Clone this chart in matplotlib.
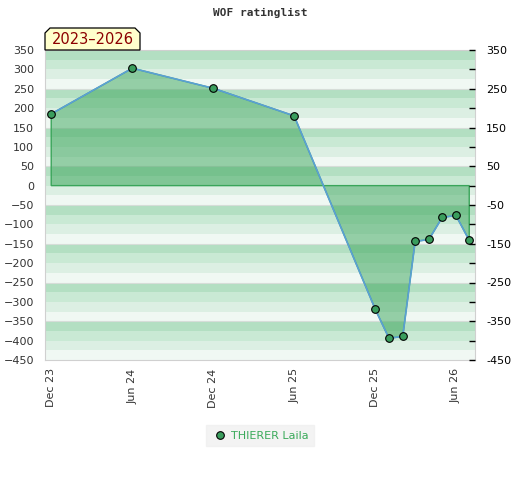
import datetime as dt
import numpy as np
import matplotlib
matplotlib.use('Agg')
import matplotlib.pyplot as plt
import matplotlib.dates as mdates
from matplotlib.patches import Polygon

# data
dates = ['2023-12-01', '2024-06-01', '2024-12-01', '2025-06-01', '2025-12-01',
         '2026-01-01', '2026-02-01', '2026-03-01', '2026-04-01', '2026-05-01',
         '2026-06-01', '2026-07-01']
rating = [185, 303, 251, 180, -319, -394, -389, -144, -139, -82, -77, -141]
player = 'THIERER Laila'
period = '2023\u20132026'
title = 'WOF ratinglist'
tick_dates = ['2023-12-01', '2024-06-01', '2024-12-01', '2025-06-01', '2025-12-01', '2026-06-01']
tick_labels = ['Dec 23', 'Jun 24', 'Dec 24', 'Jun 25', 'Dec 25', 'Jun 26']

x = mdates.date2num([dt.datetime.fromisoformat(d) for d in dates])
xt = mdates.date2num([dt.datetime.fromisoformat(d) for d in tick_dates])
y = np.array(rating)

W, H = 520, 480
fig = plt.figure(figsize=(W / 100, H / 100), dpi=100)
ax = fig.add_axes([45 / W, 1 - 360 / H, 430 / W, 310 / H])

ymin, ymax = -450, 350
# striped background
stripe_cols = ['#b3dfc2', '#c9e9d4', '#dcefe3', '#f0f8f3']
for i, top in enumerate(range(ymax, ymin, -25)):
    ax.axhspan(top - 25, top, color=stripe_cols[i % 4], lw=0, zorder=0)
for top in range(ymax - 100, ymin, -100):
    ax.axhline(top, color='#d6ddd8', lw=0.8, zorder=0.5)

# area between line and zero
poly = np.column_stack([np.r_[x[0], x, x[-1]], np.r_[0, y, 0]])
ax.add_patch(Polygon(poly, closed=True, facecolor='#3aa55a', alpha=0.5,
                     edgecolor='none', zorder=1))
ax.add_patch(Polygon(poly, closed=True, facecolor='none',
                     edgecolor='#3aa55a', lw=1, zorder=1.5))
ax.plot(x, y, color='#5b9fd6', lw=1.2, zorder=2)
ax.plot(x, y, 'o', ms=5.5, mfc='#3a9d5d', mec='black', mew=0.8, zorder=3,
        label=player)

ax.set_ylim(ymin, ymax)
left = mdates.date2num(dt.datetime(2023, 11, 17))
right = mdates.date2num(dt.datetime(2026, 7, 14))
ax.set_xlim(left, right)

ax.set_yticks(np.arange(ymin, ymax + 1, 50))
ax.tick_params(axis='y', length=0, labelsize=8, labelcolor='#333333', pad=8)
ax.set_xticks(xt)
ax.set_xticklabels(tick_labels, rotation=90)
ax.tick_params(axis='x', length=0, labelsize=8, labelcolor='#333333', pad=6)

for s in ax.spines.values():
    s.set_color('#d0d0d0')

ax2 = ax.twinx()
ax2.set_ylim(ymin, ymax)
ax2.set_yticks(np.arange(ymin, ymax + 1, 50))
ax2.set_yticklabels([str(v) if (ymax - v) % 100 == 0 else '' for v in range(ymin, ymax + 1, 50)])
ax2.tick_params(axis='y', direction='in', length=4, width=1, labelsize=8,
                labelcolor='black', pad=8)
for s in ax2.spines.values():
    s.set_visible(False)

fig.text(0.5, 1 - 13 / H, title, ha='center', va='center', fontsize=8,
         family='DejaVu Sans Mono', fontweight='bold', color='#333333')

# period label box with clipped top corners
bx0, bx1, byt, byb, c = 45, 140, 28, 50, 5
box = [(bx0, byb), (bx0, byt + c), (bx0 + c, byt), (bx1 - c, byt),
       (bx1, byt + c), (bx1, byb)]
box = [(px / W, 1 - py / H) for px, py in box]
fig.patches.append(Polygon(box, closed=True, facecolor='#ffffcc',
                           edgecolor='black', lw=0.9,
                           transform=fig.transFigure, figure=fig, zorder=5))
fig.text((bx0 + bx1) / 2 / W, 1 - 40 / H, period, ha='center', va='center',
         fontsize=10.5, color='#8b0000', zorder=6)

leg = fig.legend(loc='center', bbox_to_anchor=(0.5, 0.092), frameon=True,
                 fontsize=8, handletextpad=0.3, handlelength=1.5,
                 borderpad=0.5, fancybox=False)
leg.get_frame().set_facecolor('#f0f0f0')
leg.get_frame().set_edgecolor('#f0f0f0')
for t in leg.get_texts():
    t.set_color('#3aaa5a')

fig.savefig('out.png', dpi=100)
